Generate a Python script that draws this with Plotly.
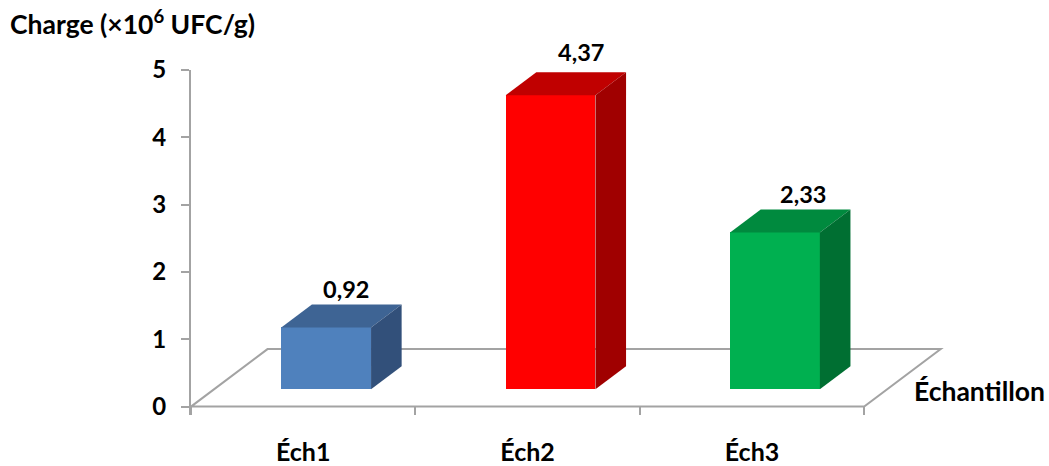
import plotly.graph_objects as go

# Bacterial load per sample
categories = ["Éch1", "Éch2", "Éch3"]
values = [0.92, 4.37, 2.33]
value_labels = ["0,92", "4,37", "2,33"]
front_colors = ["#4f81bd", "#ff0000", "#00b050"]
top_colors = ["#3e6494", "#c00000", "#008a3e"]
side_colors = ["#32507a", "#a00000", "#006f32"]
y_ticks = [0, 1, 2, 3, 4, 5]

W, H = 1049, 466
LEFT, RIGHT, TOP, BOTTOM = 191, 104.4, 70, 50.9
FONT = "Lato, Carlito, Calibri, sans-serif"
GREY = "#a3a3a3"
TEXT = "#000000"

# Oblique projection: one unit of depth moves a point by (DX, DY) in axis units
DX, DY = 0.341, 0.854
BAR_WIDTH = 0.4
DEPTH_NEAR, DEPTH_FAR = 0.3, 0.7


def project(cat, value, depth):
    return cat + depth * DX, value + depth * DY


def face(points):
    xs, ys = zip(*points)
    return go.Scatter(x=list(xs) + [xs[0]], y=list(ys) + [ys[0]], mode="lines",
                      fill="toself", line=dict(width=0), hoverinfo="skip",
                      showlegend=False)


positions = list(range(len(categories)))
fig = go.Figure()

# Front faces stand on the floor at the near depth of each bar
near_x = [project(p, 0, DEPTH_NEAR)[0] for p in positions]
near_base = project(0, 0, DEPTH_NEAR)[1]
fig.add_trace(go.Bar(x=near_x, y=values, base=near_base, width=BAR_WIDTH,
                     marker=dict(color=front_colors, line=dict(width=0)),
                     showlegend=False, hoverinfo="skip"))

annotations = []
label_nudges = [(-11, 15), (0, 20), (-3, 15)]
for p, v, text, tc, sc, nudge in zip(positions, values, value_labels,
                                     top_colors, side_colors, label_nudges):
    l, r = p - BAR_WIDTH / 2, p + BAR_WIDTH / 2
    top = face([project(l, v, DEPTH_NEAR), project(r, v, DEPTH_NEAR),
                project(r, v, DEPTH_FAR), project(l, v, DEPTH_FAR)])
    top.fillcolor = tc
    side = face([project(r, 0, DEPTH_NEAR), project(r, v, DEPTH_NEAR),
                 project(r, v, DEPTH_FAR), project(r, 0, DEPTH_FAR)])
    side.fillcolor = sc
    fig.add_traces([top, side])
    ax, ay = project(p, v, DEPTH_FAR)
    annotations.append(dict(x=ax, y=ay, xref="x", yref="y", text=f"<b>{text}</b>",
                            showarrow=False, xshift=nudge[0], yshift=nudge[1],
                            font=dict(family=FONT, size=23.5, color=TEXT)))

# Floor outline behind the bars
corners = [project(-0.5, 0, 0), project(-0.5, 0, 1), project(2.5, 0, 1), project(2.5, 0, 0)]
floor_path = "M " + " L ".join(f"{x:.4f},{y:.4f}" for x, y in corners) + " Z"
shapes = [dict(type="path", path=floor_path, xref="x", yref="y", layer="below",
               line=dict(color=GREY, width=2))]


def paper(px, py):
    plot_w, plot_h = W - LEFT - RIGHT, H - TOP - BOTTOM
    return (px - LEFT) / plot_w, 1 - (py - TOP) / plot_h


for text, px, py in [
    ("<b>Charge (×10<sup>6</sup> UFC/g)</b>", 8, 22),
    ("<b>Échantillon</b>", 912, 391),
]:
    x, y = paper(px, py)
    annotations.append(dict(x=x, y=y, xref="paper", yref="paper", text=text,
                            showarrow=False, xanchor="left", yanchor="middle",
                            font=dict(family=FONT, size=26.5, color=TEXT)))

fig.update_layout(
    width=W, height=H, autosize=False,
    margin=dict(l=LEFT, r=RIGHT, t=TOP, b=BOTTOM, pad=0, autoexpand=False),
    paper_bgcolor="white", plot_bgcolor="white", bargap=0,
    shapes=shapes, annotations=annotations, showlegend=False,
    xaxis=dict(
        range=[-0.5, 2.86], showgrid=False, zeroline=False, showline=False,
        automargin=False,
        tickmode="array", tickvals=positions, ticktext=[f"<b>{c}</b>" for c in categories],
        ticks="", ticklabelstandoff=20,
        tickfont=dict(family=FONT, size=25, color=TEXT),
        minor=dict(tickmode="array", tickvals=[-0.5, 0.5, 1.5, 2.5], ticks="inside",
                   ticklen=8, tickwidth=2, tickcolor=GREY, showgrid=False),
    ),
    yaxis=dict(
        range=[-0.125, 5], showgrid=False, zeroline=False, showline=True,
        automargin=False,
        linecolor=GREY, linewidth=2,
        tickmode="array", tickvals=y_ticks, ticktext=[f"<b>{t}</b>" for t in y_ticks],
        ticks="outside", ticklen=8, tickwidth=2, tickcolor=GREY, ticklabelstandoff=10,
        tickfont=dict(family=FONT, size=24, color=TEXT),
    ),
)

fig.write_html("out.html", config=dict(displayModeBar=False))
